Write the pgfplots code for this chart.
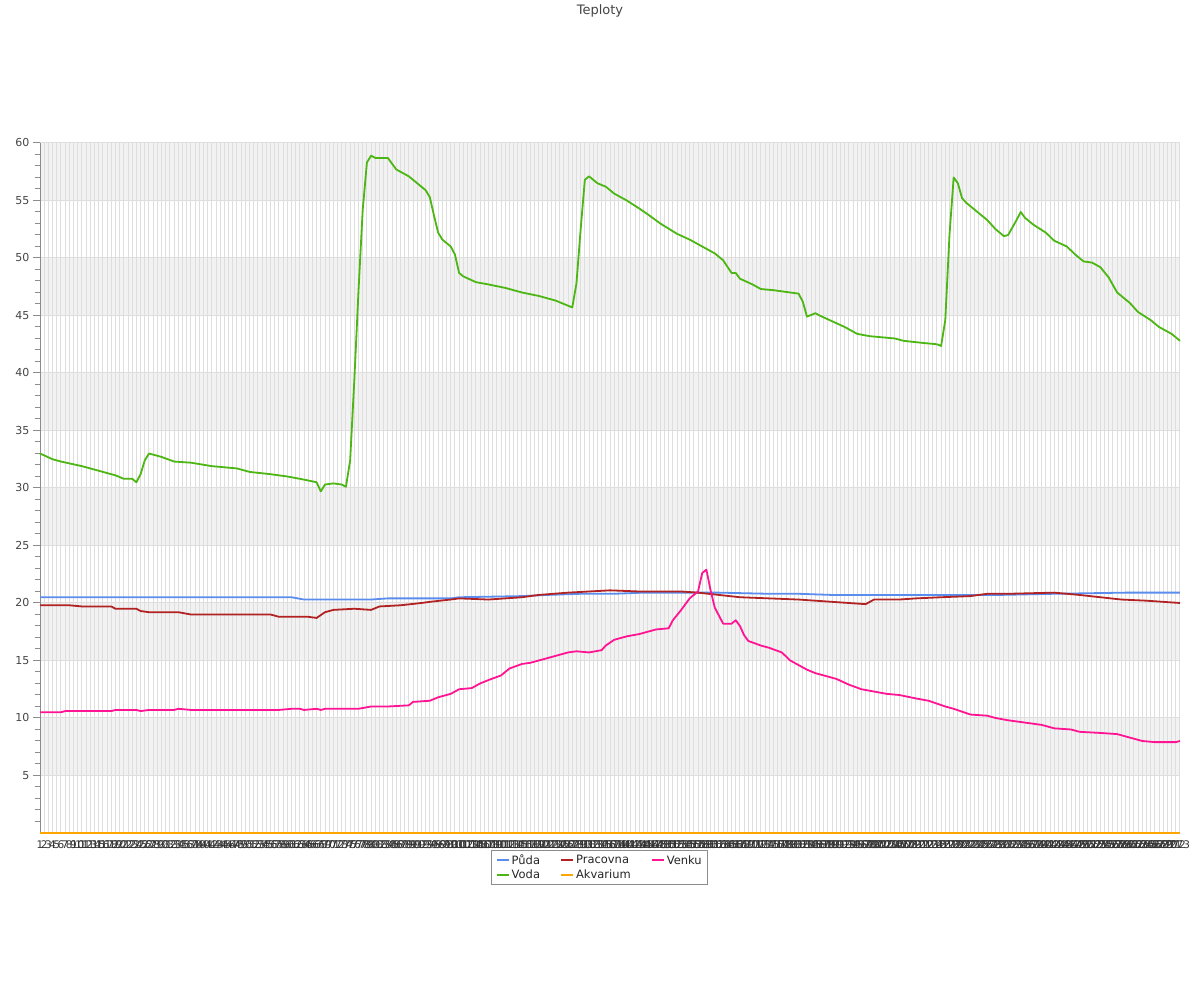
\documentclass[border=0pt]{standalone}
\usepackage{fontspec}
\setmainfont{DejaVu Sans}
\usepackage{pgfplots}
\pgfplotsset{compat=1.18}
\definecolor{puda}{RGB}{90,141,238}
\definecolor{voda}{RGB}{76,182,18}
\definecolor{pracovna}{RGB}{178,34,34}
\definecolor{akvarium}{RGB}{255,165,0}
\definecolor{venku}{RGB}{255,20,147}
\definecolor{band}{RGB}{242,242,242}
\definecolor{gridc}{RGB}{222,222,222}
\definecolor{axc}{RGB}{140,140,140}
\definecolor{txt}{RGB}{68,68,68}
\begin{document}
\begin{tikzpicture}
\begin{axis}[
  set layers=standard,
  scale only axis, width=1140pt, height=690pt,
  at={(0pt,0pt)}, anchor=south west,
  xmin=1, xmax=273, ymin=0, ymax=60,
  clip=false,
  axis lines=left, axis line style={-, draw=axc, line width=1pt},
  xtick={1,...,273}, 
  ytick={5,10,...,60}, minor ytick={1,2,...,59},
  tick align=outside,
  xtick style={draw=none},
  ytick style={draw=axc, line width=1pt},
  major tick length=7pt, minor tick length=5pt,
  xmajorgrids, ymajorgrids,
  major grid style={draw=gridc, line width=1pt},
  /pgf/number format/assume math mode=true,
  yticklabel style={font=\fontsize{11}{13}\selectfont, text=txt},
  xticklabel style={font=\fontsize{10.5}{12}\selectfont, text=black!80, inner sep=1pt},
  legend columns=3,
  legend cell align=left,
  legend style={at={(0.491,-0.0246)}, anchor=north, draw=axc, line width=0.8pt,
    font=\fontsize{11.5}{14}\selectfont, text=black!85, inner xsep=4pt, inner ysep=2.5pt,
    /tikz/every even column/.append style={column sep=18pt}},
  legend image code/.code={\draw[#1, line width=2pt] (0pt,0pt) -- (12pt,0pt);},
  every axis plot/.append style={line width=1.8pt, line join=round},
]
\addplot[fill=band, draw=none, line width=0pt, forget plot, on layer=axis background] coordinates {(1,5) (273,5) (273,10) (1,10) (1,5)};
\addplot[fill=band, draw=none, line width=0pt, forget plot, on layer=axis background] coordinates {(1,15) (273,15) (273,20) (1,20) (1,15)};
\addplot[fill=band, draw=none, line width=0pt, forget plot, on layer=axis background] coordinates {(1,25) (273,25) (273,30) (1,30) (1,25)};
\addplot[fill=band, draw=none, line width=0pt, forget plot, on layer=axis background] coordinates {(1,35) (273,35) (273,40) (1,40) (1,35)};
\addplot[fill=band, draw=none, line width=0pt, forget plot, on layer=axis background] coordinates {(1,45) (273,45) (273,50) (1,50) (1,45)};
\addplot[fill=band, draw=none, line width=0pt, forget plot, on layer=axis background] coordinates {(1,55) (273,55) (273,60) (1,60) (1,55)};

% Puda
\addplot[puda] coordinates {
(1,20.5) (61,20.5) (64,20.3) (80,20.3) (84,20.4) (99,20.4) (101,20.5) (116,20.6)
(122,20.7) (130,20.8) (138,20.8) (145,20.9) (154,20.9) (163,20.9) (175,20.8)
(182,20.8) (190,20.7) (230,20.7) (243,20.8) (260,20.9) (273,20.9)
};
\addlegendentry{Půda}

% Pracovna
\addplot[pracovna] coordinates {
(1,19.8) (8,19.8) (11,19.7) (18,19.7) (19,19.5) (24,19.5) (25,19.3) (27,19.2)
(34,19.2) (37,19.0) (56,19.0) (58,18.8) (65,18.8) (67,18.7) (69,19.2) (71,19.4)
(76,19.5) (80,19.4) (82,19.7) (87,19.8) (92,20.0) (94,20.1) (99,20.3) (101,20.4)
(108,20.3) (116,20.5) (120,20.7) (127,20.9) (132,21.0) (137,21.1) (144,21.0)
(154,21.0) (158,20.9) (163,20.7) (168,20.5) (175,20.4) (182,20.3) (190,20.1)
(194,20.0) (198,19.9) (200,20.3) (206,20.3) (210,20.4) (216,20.5) (223,20.6)
(227,20.8) (232,20.8) (243,20.9) (249,20.7) (254,20.5) (259,20.3) (265,20.2)
(269,20.1) (273,20.0)
};
\addlegendentry{Pracovna}

% Venku
\addplot[venku] coordinates {
(1,10.5) (6,10.5) (7,10.6) (18,10.6) (19,10.7) (24,10.7) (25,10.6) (27,10.7)
(33,10.7) (34,10.8) (37,10.7) (58,10.7) (61,10.8) (63,10.8) (64,10.7) (67,10.8)
(68,10.7) (69,10.8) (77,10.8) (80,11.0) (84,11.0) (89,11.1) (90,11.4) (94,11.5)
(96,11.8) (99,12.1) (101,12.5) (104,12.6) (106,13.0) (108,13.3) (111,13.7)
(113,14.3) (116,14.7) (118,14.8) (120,15.0) (122,15.2) (125,15.5) (127,15.7)
(129,15.8) (132,15.7) (135,15.9) (136,16.3) (138,16.8) (141,17.1) (144,17.3)
(146,17.5) (148,17.7) (151,17.8) (152,18.5) (154,19.4) (156,20.4) (158,21.0)
(159,22.6) (160,22.9) (161,21.1) (162,19.6) (164,18.2) (166,18.2) (167,18.5)
(168,18.0) (169,17.2) (170,16.7) (173,16.3) (175,16.1) (178,15.7) (180,15.0)
(181,14.8) (184,14.2) (186,13.9) (188,13.7) (191,13.4) (194,12.9) (197,12.5)
(200,12.3) (203,12.1) (206,12.0) (210,11.7) (213,11.5) (217,11.0) (219,10.8)
(223,10.3) (227,10.2) (229,10.0) (232,9.8) (236,9.6) (240,9.4) (243,9.1)
(247,9.0) (249,8.8) (254,8.7) (258,8.6) (261,8.3) (264,8.0) (267,7.9) (272,7.9)
(273,8.0)
};
\addlegendentry{Venku}

% Voda
\addplot[voda] coordinates {
(1,33.0) (4,32.5) (6,32.3) (11,31.9) (15,31.5) (19,31.1) (21,30.8) (23,30.8)
(24,30.5) (25,31.2) (26,32.4) (27,33.0) (28,32.9) (30,32.7) (33,32.3) (37,32.2)
(42,31.9) (48,31.7) (51,31.4) (56,31.2) (60,31.0) (63,30.8) (67,30.5) (68,29.7)
(69,30.3) (71,30.4) (73,30.3) (74,30.1) (75,32.4) (76,39.4) (77,47.2) (78,54.2)
(79,58.3) (80,58.9) (81,58.7) (84,58.7) (86,57.7) (89,57.1) (91,56.5) (93,55.9)
(94,55.3) (95,53.7) (96,52.2) (97,51.6) (99,51.0) (100,50.3) (101,48.7)
(102,48.4) (105,47.9) (108,47.7) (112,47.4) (116,47.0) (120,46.7) (124,46.3)
(126,46.0) (128,45.7) (129,47.8) (130,52.5) (131,56.8) (132,57.1) (134,56.5)
(136,56.2) (138,55.6) (141,55.0) (144,54.3) (146,53.8) (149,53.0) (153,52.1)
(156,51.6) (159,51.0) (162,50.4) (164,49.8) (166,48.7) (167,48.7) (168,48.2)
(171,47.7) (173,47.3) (176,47.2) (178,47.1) (182,46.9) (183,46.2) (184,44.9)
(186,45.2) (187,45.0) (190,44.5) (193,44.0) (196,43.4) (199,43.2) (202,43.1)
(205,43.0) (207,42.8) (212,42.6) (215,42.5) (216,42.35) (217,44.6) (218,52.0)
(219,57.0) (220,56.5) (221,55.2) (222,54.8) (224,54.2) (227,53.3) (228,52.9)
(229,52.5) (231,51.9) (232,52.0) (234,53.3) (235,54.0) (236,53.5) (238,52.9)
(241,52.2) (243,51.5) (246,51.0) (248,50.3) (250,49.7) (252,49.6) (254,49.2)
(256,48.3) (258,47.0) (261,46.1) (263,45.3) (266,44.6) (268,44.0) (271,43.4)
(273,42.8)
};
\addlegendentry{Voda}

% Akvarium
\addplot[akvarium] coordinates {(1,0) (273,0)};
\addlegendentry{Akvarium}
\end{axis}
\node[font=\fontsize{13}{15}\selectfont, text=txt] at (560pt,822pt) {Teploty};
\pgfresetboundingbox
\path[use as bounding box] (-40pt,-167pt) rectangle (1160pt,833pt);
\end{tikzpicture}
\end{document}
